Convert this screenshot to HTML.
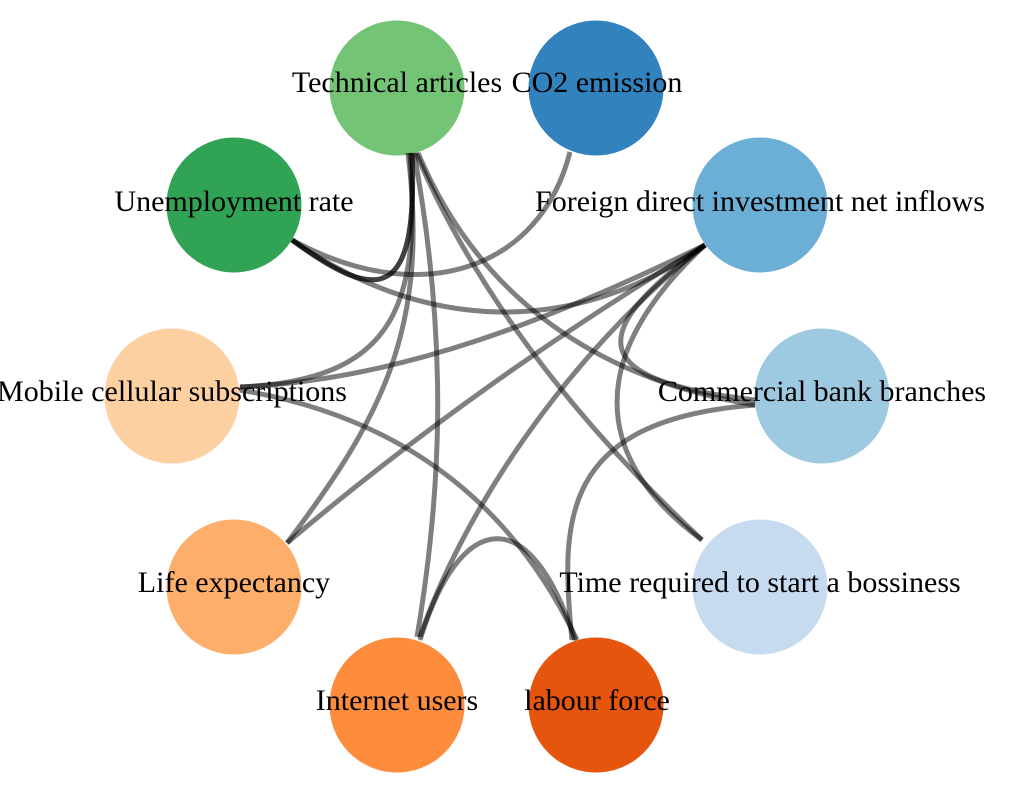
<!DOCTYPE html>
<html><head><meta charset="utf-8"><style>
html,body{margin:0;padding:0;background:#fff;}
svg{display:block;}
text{font-family:"Liberation Serif",serif;font-size:30px;fill:#000;text-anchor:middle;dominant-baseline:middle;}
</style></head><body>
<svg width="1016" height="798" viewBox="0 0 1016 798">
<g stroke="#fff" stroke-width="3">
<circle cx="397" cy="88" r="69" fill="#74c476"/>
<circle cx="596" cy="88" r="69" fill="#3182bd"/>
<circle cx="234" cy="205" r="69" fill="#31a354"/>
<circle cx="760" cy="205" r="69" fill="#6baed6"/>
<circle cx="172" cy="396" r="69" fill="#fdd0a2"/>
<circle cx="822" cy="396" r="69" fill="#9ecae1"/>
<circle cx="234" cy="587" r="69" fill="#fdae6b"/>
<circle cx="760" cy="587" r="69" fill="#c6dbef"/>
<circle cx="397" cy="705" r="69" fill="#fd8d3c"/>
<circle cx="596" cy="705" r="69" fill="#e6550d"/>
</g>
<g fill="none" stroke="#000" stroke-opacity="0.5" stroke-width="5">
<path d="M412 153 C418 300 380 305 292 240"/>
<path d="M412 153 C418 300 380 305 292 240"/>
<path d="M570 152 C540 270 420 310 292 240"/>
<path d="M292 240 C420 330 570 340 705 245"/>
<path d="M410 153 C420 300 400 380 240 387"/>
<path d="M408 153 C430 330 380 420 287 543"/>
<path d="M414 153 C450 350 440 500 417 637"/>
<path d="M416 153 Q500 350 702 540"/>
<path d="M418 153 C480 300 600 380 755 405"/>
<path d="M705 245 C550 320 400 380 240 387"/>
<path d="M705 245 Q480 380 287 543"/>
<path d="M705 245 C560 360 460 520 420 637"/>
<path d="M705 245 C590 330 580 380 755 400"/>
<path d="M705 245 C560 380 620 480 702 540"/>
<path d="M755 405 C560 420 560 520 572 640"/>
<path d="M240 390 C420 420 520 520 577 640"/>
<path d="M420 640 C460 510 530 500 575 640"/>
</g>
<text x="397" y="85">Technical articles</text>
<text x="597" y="85">CO2 emission</text>
<text x="234" y="204">Unemployment rate</text>
<text x="760" y="204">Foreign direct investment net inflows</text>
<text x="172" y="394">Mobile cellular subscriptions</text>
<text x="822" y="394">Commercial bank branches</text>
<text x="234" y="585">Life expectancy</text>
<text x="760" y="585">Time required to start a bossiness</text>
<text x="397" y="703">Internet users</text>
<text x="597" y="703">labour force</text>
</svg>
</body></html>
